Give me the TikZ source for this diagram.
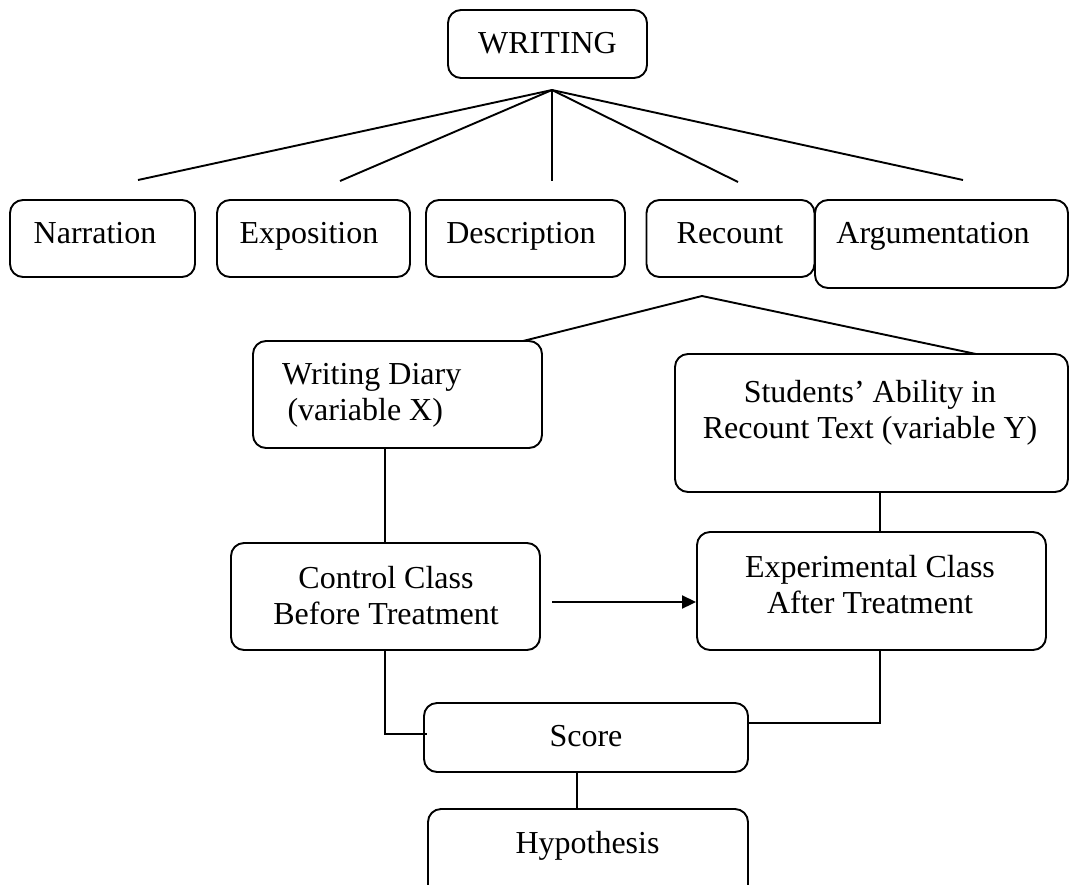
\documentclass[tikz,border=0pt]{standalone}
\usepackage{fontspec}
\setmainfont{Liberation Serif}
\usetikzlibrary{arrows.meta,calc}
\begin{document}
\begin{tikzpicture}[x=1pt,y=-1pt,
  box/.style={draw, line width=1.9pt, rounded corners=13pt, inner sep=0pt},
  lbl/.style={font=\fontsize{32}{35.5}\selectfont, anchor=base, inner sep=0pt, align=center},
  conn/.style={line width=1.9pt},
  arr/.style={line width=1.9pt, -{Triangle[length=14pt,width=13pt]}}]
\useasboundingbox (0,0) rectangle (1070,884);
% top
\node[box, minimum width=199pt, minimum height=68pt] (writing) at (547.5,44) {};
\node[lbl] (writingT) at (547.5,53) {WRITING};
\coordinate (apex) at (552,90);
% row of types
\node[box, minimum width=185pt, minimum height=77pt] (narr) at (102.5,238.5) {};
\node[lbl] (narrT) at (95,243) {Narration};
\node[box, minimum width=193pt, minimum height=77pt] (expo) at (313.5,238.5) {};
\node[lbl] (expoT) at (309,243) {Exposition};
\node[box, minimum width=199pt, minimum height=77pt] (desc) at (525.5,238.5) {};
\node[lbl] (descT) at (521,243) {Description};
\node[box, minimum width=168pt, minimum height=77pt] (rec) at (730.5,238.5) {};
\node[lbl] (recT) at (730,243) {Recount};
\node[box, minimum width=253pt, minimum height=88pt] (arg) at (941.5,244) {};
\node[lbl] (argT) at (933,243) {Argumentation};
\coordinate (e1) at (138,180);
\coordinate (e2) at (340,181);
\coordinate (e3) at (552,181);
\coordinate (e4) at (738,182);
\coordinate (e5) at (963,180);
\foreach \e in {e1,e2,e3,e4,e5} \draw[conn] (apex) -- (\e);
% recount branch
\coordinate (rapex) at (702,296);
\node[box, minimum width=289pt, minimum height=107pt] (wd) at (397.5,394.5) {};
\node[lbl, anchor=base west, align=left] (wdT) at (282,420) {Writing Diary\\\,(variable X)};
\node[box, minimum width=393pt, minimum height=138pt] (stud) at (871.5,423) {};
\node[lbl] (studT) at (870,438) {Students' Ability in\\Recount Text (variable Y)};
\coordinate (wdTop) at (523,341);
\coordinate (studTop) at (976,354);
\draw[conn] (wdTop) -- (rapex) -- (studTop);
% classes
\node[box, minimum width=309pt, minimum height=107pt] (ctrl) at (385.5,596.5) {};
\node[lbl] (ctrlT) at (386,624) {Control Class\\Before Treatment};
\node[box, minimum width=349pt, minimum height=118pt] (exp) at (871.5,591) {};
\node[lbl] (expT) at (870,613) {Experimental Class\\After Treatment};
\coordinate (xl) at (385,0);
\coordinate (xr) at (880,0);
\draw[conn] (wd.south -| xl) -- (ctrl.north -| xl);
\draw[conn] (stud.south -| xr) -- (exp.north -| xr);
\coordinate (arrS) at (552,602);
\draw[arr] (arrS) -- (arrS -| exp.west);
% score & hypothesis
\node[box, minimum width=324pt, minimum height=69pt] (score) at (586,737.5) {};
\node[lbl] (scoreT) at (586,746) {Score};
\node[box, minimum width=320pt, minimum height=96pt] (hyp) at (588,857) {};
\node[lbl] (hypT) at (587.5,853) {Hypothesis};
\coordinate (yl) at (0,734);
\coordinate (yr) at (0,723);
\draw[conn] (ctrl.south -| xl) -- (xl |- yl) -- ($(score.west |- yl)+(4,0)$);
\draw[conn] (exp.south -| xr) -- (xr |- yr) -- (score.east |- yr);
\coordinate (xs) at (577,0);
\draw[conn] (score.south -| xs) -- (hyp.north -| xs);
\end{tikzpicture}
\end{document}
